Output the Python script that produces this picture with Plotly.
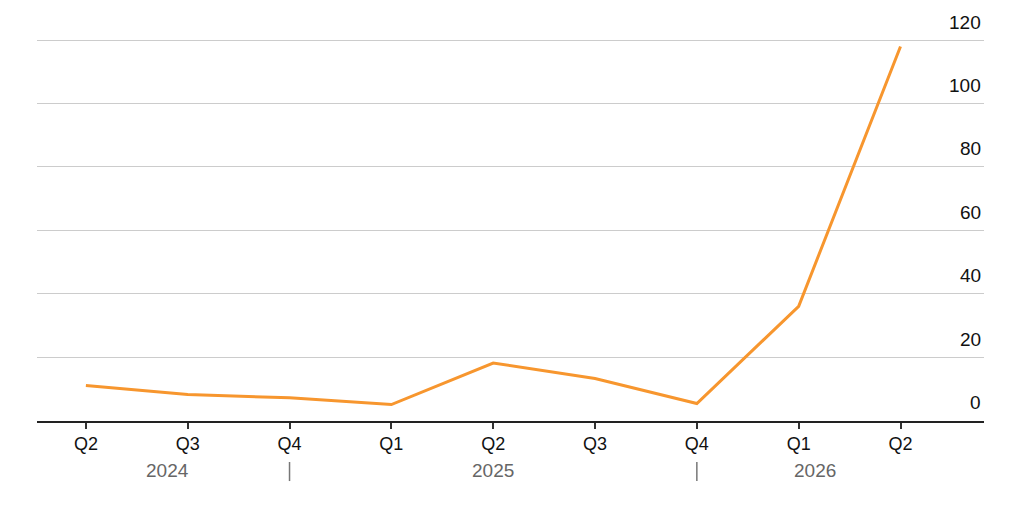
import plotly.graph_objects as go

quarters = ["Q2", "Q3", "Q4", "Q1", "Q2", "Q3", "Q4", "Q1", "Q2"]
values = [11, 8.2, 7.1, 5, 18.1, 13.2, 5.3, 36, 118]
years = ["2024", "2025", "2026"]
year_pos = [0.8, 4.0, 7.16]
separator_pos = [2, 6]
y_ticks = [0, 20, 40, 60, 80, 100, 120]

x = list(range(len(values)))
FONT = "Liberation Sans, Arial, Helvetica, sans-serif"

fig = go.Figure()
fig.add_trace(go.Scatter(
    x=x, y=values, mode="lines",
    line=dict(color="#F7962E", width=3),
    hoverinfo="skip",
))

fig.update_layout(
    width=1008, height=490,
    margin=dict(l=29, r=32, t=10, b=77),
    paper_bgcolor="white", plot_bgcolor="white",
    showlegend=False,
    font=dict(family=FONT, color="#111"),
    xaxis=dict(
        range=[-0.48, 8.82],
        tickmode="array", tickvals=x, ticktext=quarters,
        ticks="outside", ticklen=6, tickwidth=1.5, tickcolor="#333",
        showline=True, linecolor="#222", linewidth=1.5,
        showgrid=False, zeroline=False,
        tickfont=dict(size=18, color="#111"),
        fixedrange=True,
    ),
    yaxis=dict(
        range=[-0.2, 127],
        side="right",
        tickvals=y_ticks,
        showticklabels=False,
        showgrid=True, gridcolor="#cccccc", gridwidth=1,
        zeroline=False, showline=False, ticks="",
        fixedrange=True,
    ),
)

for v in y_ticks:
    fig.add_annotation(
        x=1, y=v, xref="paper", yref="y",
        text=str(v), showarrow=False,
        xanchor="right", yanchor="middle", xshift=-1, yshift=18,
        font=dict(size=19, color="#111"),
    )

for yr, pos in zip(years, year_pos):
    fig.add_annotation(
        x=pos, y=0, xref="x", yref="y",
        text=yr, showarrow=False,
        yanchor="middle", yshift=-50,
        font=dict(size=19, color="#666"),
    )

for pos in separator_pos:
    fig.add_shape(
        type="line", xref="x", yref="paper",
        x0=pos, x1=pos, y0=-0.1017, y1=-0.149,
        line=dict(color="#777", width=1.5),
    )

fig.write_html("out.html")
